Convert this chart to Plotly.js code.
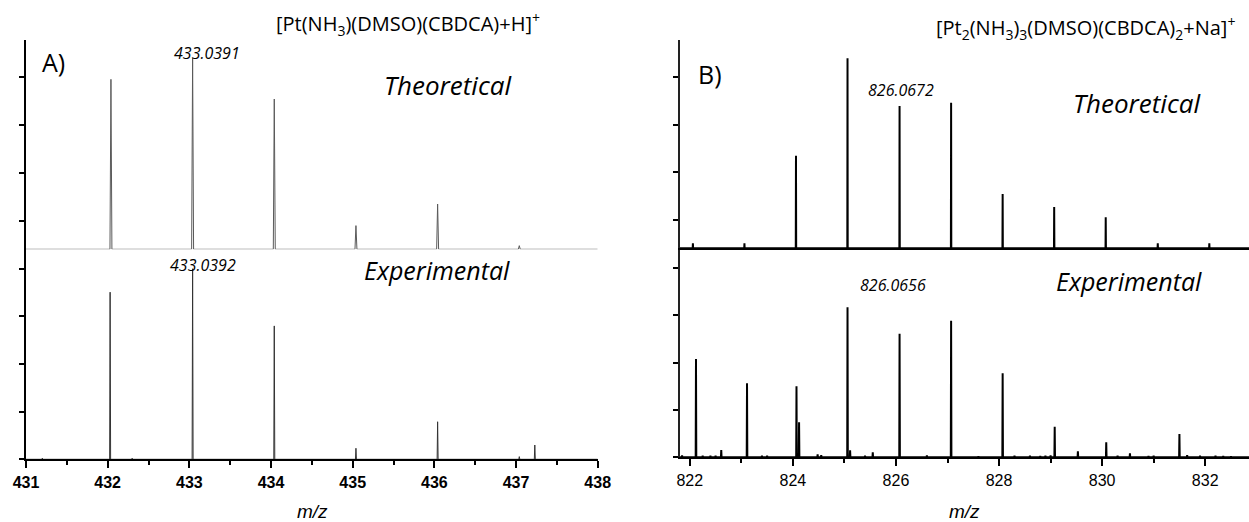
<!DOCTYPE html>
<html>
<head>
<meta charset="utf-8">
<script src="https://cdn.plot.ly/plotly-3.0.1.min.js"></script>
<style>html,body{margin:0;padding:0;background:#fff}#chart{width:1249px;height:522px}</style>
</head>
<body>
<div id="chart"></div>
<script>
// ---- Data (relative intensity, %) ----
const leftTheoMz  = [432.04, 433.04, 434.04, 435.04, 436.04, 437.04];
const leftTheoInt = [89.0, 100.0, 78.7, 12.4, 23.7, 1.9];

const leftExpMz  = [431.20, 432.03, 432.30, 433.04, 434.04, 435.04, 436.04, 437.04, 437.23];
const leftExpInt = [0.6, 87.7, 0.6, 100.0, 70.0, 5.8, 19.7, 1.4, 7.5];

const rightTheoMz  = [822.06, 823.06, 824.06, 825.06, 826.07, 827.07, 828.07, 829.07, 830.07, 831.08, 832.08];
const rightTheoInt = [2.6, 2.6, 48.7, 100.0, 74.9, 76.6, 28.6, 21.7, 16.3, 2.6, 2.6];

const rightExpMz  = [821.85, 822.12, 822.25, 822.40, 822.50, 822.61, 823.11, 823.40, 823.50, 824.07, 824.12,
                     824.48, 824.55, 825.06, 825.11, 825.40, 825.55, 826.07, 826.60, 827.07, 827.60, 828.07,
                     828.30, 828.60, 828.80, 828.90, 829.00, 829.08, 829.53, 830.08, 830.30, 830.54, 830.90,
                     831.00, 831.50, 831.65, 831.90, 832.20, 832.35, 832.50];
const rightExpInt = [1.0, 52.0, 0.8, 0.8, 0.8, 3.9, 39.1, 0.9, 0.9, 37.5, 18.5,
                     1.6, 1.2, 79.3, 3.7, 0.8, 2.6, 65.3, 1.0, 72.2, 0.6, 44.4,
                     0.8, 0.8, 0.7, 0.9, 1.0, 16.2, 3.2, 7.9, 0.8, 2.1, 0.7,
                     0.9, 12.3, 1.2, 0.8, 0.8, 0.7, 0.6];

const leftTicks  = [431, 432, 433, 434, 435, 436, 437, 438];
const rightTicks = [822, 824, 826, 828, 830, 832];

// build stick/profile polyline from peak lists
function profile(mz, inten, hw, xmin, xmax) {
  const xs = [xmin], ys = [0];
  for (let i = 0; i < mz.length; i++) {
    xs.push(mz[i] - hw, mz[i], mz[i] + hw);
    ys.push(0, inten[i], 0);
  }
  xs.push(xmax); ys.push(0);
  return {x: xs, y: ys};
}

const W = 1249, H = 522;
const px = v => v / W;
const py = v => 1 - v / H;

const lt = profile(leftTheoMz, leftTheoInt, 0.012, 431, 438);
const le = profile(leftExpMz, leftExpInt, 0.006, 431, 438);
const rt = profile(rightTheoMz, rightTheoInt, 0.004, 821.8, 832.85);
const re = profile(rightExpMz, rightExpInt, 0.006, 821.8, 832.85);

const traces = [
  {x: lt.x, y: lt.y, xaxis: 'x3', yaxis: 'y3', mode: 'lines', line: {color: '#5a5a5a', width: 1}, hoverinfo: 'skip'},
  {x: le.x, y: le.y, xaxis: 'x',  yaxis: 'y',  mode: 'lines', line: {color: '#333333', width: 1}, hoverinfo: 'skip'},
  {x: rt.x, y: rt.y, xaxis: 'x4', yaxis: 'y4', mode: 'lines', line: {color: '#000000', width: 2}, hoverinfo: 'skip'},
  {x: re.x, y: re.y, xaxis: 'x2', yaxis: 'y2', mode: 'lines', line: {color: '#000000', width: 2}, hoverinfo: 'skip'}
];

const tickFontL = {family: 'Liberation Sans, Arial, sans-serif', size: 16, color: '#000', weight: 'bold'};
const tickFontR = {family: 'Liberation Sans, Arial, sans-serif', size: 16, color: '#000'};

const yCommon = {showgrid: false, zeroline: false, showticklabels: false, showline: true,
  linecolor: '#000', ticks: 'outside', ticklen: 5, tickcolor: '#000', tickwidth: 1.5, fixedrange: true};

const layout = {
  width: W, height: H,
  margin: {l: 0, r: 0, t: 0, b: 0},
  paper_bgcolor: '#fff', plot_bgcolor: 'rgba(0,0,0,0)',
  showlegend: false,
  font: {family: 'Open Sans, sans-serif', color: '#000'},
  xaxis: {domain: [px(26), px(597.7)], range: [431, 438], anchor: 'y', showgrid: false, zeroline: false,
    showline: true, linecolor: '#000', linewidth: 2, ticks: 'outside', ticklen: 7, tickwidth: 1.5, tickcolor: '#000',
    tickvals: leftTicks, ticktext: leftTicks.map(String), tickfont: tickFontL,
    minor: {ticks: 'outside', dtick: 0.5, tick0: 431, ticklen: 4, tickcolor: '#000', tickwidth: 1.5, showgrid: false}},
  yaxis: Object.assign({}, yCommon, {domain: [py(459.3), py(249.3)], range: [0, 110.2], anchor: 'x',
    tickvals: [0, 25, 50, 75, 100], linewidth: 2}),
  xaxis3: {domain: [px(26), px(597.7)], range: [431, 438], anchor: 'y3', matches: 'x', showgrid: false,
    zeroline: false, showline: false, ticks: '', showticklabels: false},
  yaxis3: Object.assign({}, yCommon, {domain: [py(249.3), py(40)], range: [0, 109.6], anchor: 'x3',
    tickvals: [15, 40, 65, 90], linewidth: 2}),
  xaxis2: {domain: [px(679.5), 1], range: [821.8, 832.85], anchor: 'y2', showgrid: false, zeroline: false,
    showline: true, linecolor: '#000', linewidth: 2, ticks: 'outside', ticklen: 7, tickwidth: 1.5, tickcolor: '#000',
    tickvals: rightTicks, ticktext: rightTicks.map(String), tickfont: tickFontR,
    minor: {ticks: 'outside', dtick: 1, tick0: 821, ticklen: 4, tickcolor: '#000', tickwidth: 1.5, showgrid: false}},
  yaxis2: Object.assign({}, yCommon, {domain: [py(457.3), py(248.3)], range: [0, 110.5], anchor: 'x2',
    tickvals: [0, 25, 50, 75, 100], linewidth: 1.5, linecolor: '#222'}),
  xaxis4: {domain: [px(679.5), 1], range: [821.8, 832.85], anchor: 'y4', matches: 'x2', showgrid: false,
    zeroline: false, showline: true, linecolor: '#000', linewidth: 2, ticks: '', showticklabels: false},
  yaxis4: Object.assign({}, yCommon, {domain: [py(248.3), py(40)], range: [0, 109.6], anchor: 'x4',
    tickvals: [15, 40, 65, 90], linewidth: 1.5, linecolor: '#222'}),
  annotations: []
};

function ann(text, x, y, opts) {
  layout.annotations.push(Object.assign({text: text, xref: 'paper', yref: 'paper', x: px(x), y: py(y),
    showarrow: false, xanchor: 'center', yanchor: 'middle', font: {family: 'Open Sans, sans-serif', size: 16, color: '#000'}}, opts || {}));
}
const titleFont = {family: 'Open Sans, sans-serif', size: 20, color: '#000'};
const labFont = {family: 'Open Sans, sans-serif', size: 16, color: '#000', style: 'italic'};
const theoFont = {family: 'Open Sans, sans-serif', size: 26, color: '#000', style: 'italic'};
const expFont = {family: 'Open Sans, sans-serif', size: 25, color: '#000', style: 'italic'};
const mzFont = {family: 'Liberation Sans, Arial, sans-serif', size: 19, color: '#000', style: 'italic'};
const panelFont = {family: 'Open Sans, sans-serif', size: 25, color: '#000'};

ann('[Pt(NH<sub>3</sub>)(DMSO)(CBDCA)+H]<sup>+</sup>', 408, 24, {font: titleFont});
ann('[Pt<sub>2</sub>(NH<sub>3</sub>)<sub>3</sub>(DMSO)(CBDCA)<sub>2</sub>+Na]<sup>+</sup>', 1085, 28, {font: titleFont});
ann('A)', 40, 62, {xanchor: 'left', font: panelFont});
ann('B)', 696, 74, {xanchor: 'left', font: panelFont});
ann('433.0391', 206.7, 53, {font: labFont});
ann('433.0392', 202.5, 265, {font: labFont});
ann('826.0672', 901, 89.5, {font: labFont});
ann('826.0656', 892.5, 285, {font: labFont});
ann('Theoretical', 514, 85, {xanchor: 'right', font: theoFont});
ann('Experimental', 512, 270, {xanchor: 'right', font: expFont});
ann('Theoretical', 1203, 103, {xanchor: 'right', font: theoFont});
ann('Experimental', 1204, 281, {xanchor: 'right', font: expFont});
ann('m/z', 312, 511, {font: mzFont});
ann('m/z', 964, 511, {font: mzFont});

Plotly.newPlot('chart', traces, layout, {displayModeBar: false});
</script>
</body>
</html>
